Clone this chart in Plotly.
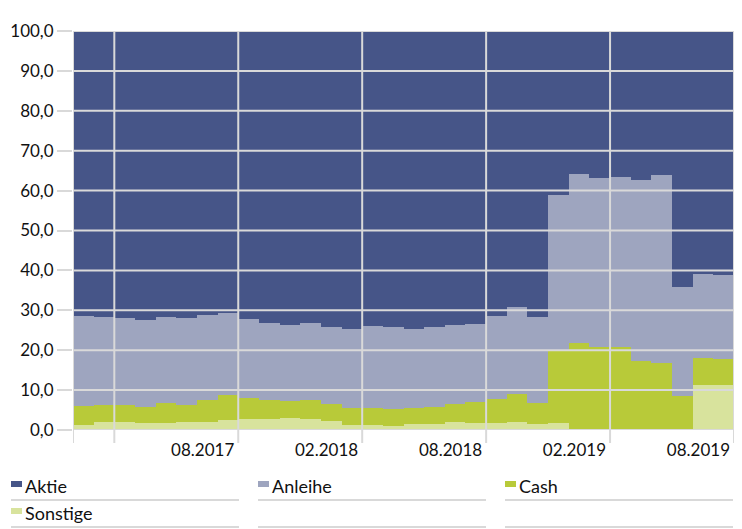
import plotly.graph_objects as go

# ---- data (in percent) ----
months = [
    "01.2017", "02.2017", "03.2017", "04.2017", "05.2017", "06.2017", "07.2017", "08.2017",
    "09.2017", "10.2017", "11.2017", "12.2017", "01.2018", "02.2018", "03.2018", "04.2018",
    "05.2018", "06.2018", "07.2018", "08.2018", "09.2018", "10.2018", "11.2018", "12.2018",
    "01.2019", "02.2019", "03.2019", "04.2019", "05.2019", "06.2019", "07.2019", "08.2019",
]
sonstige = [1.3, 2.0, 1.9, 1.8, 1.8, 2.0, 1.9, 2.4, 2.8, 2.7, 2.9, 2.7, 2.2, 1.3, 1.3, 1.1,
            1.4, 1.5, 1.9, 1.7, 1.8, 2.1, 1.6, 1.8, 0.0, 0.0, 0.0, 0.0, 0.0, 0.0, 11.3, 11.2]
cash = [4.8, 4.3, 4.4, 4.0, 4.9, 4.2, 5.6, 6.4, 5.3, 4.9, 4.3, 4.9, 4.3, 4.1, 4.3, 4.1,
        4.1, 4.2, 4.6, 5.4, 5.9, 6.9, 5.2, 18.0, 21.9, 20.9, 20.9, 17.3, 16.8, 8.6, 6.8, 6.7]
anleihe = [22.5, 22.0, 21.8, 21.8, 21.7, 21.9, 21.3, 20.6, 19.7, 19.2, 19.2, 19.1, 19.2, 19.9, 20.4, 20.5,
           19.8, 20.1, 19.7, 19.4, 20.8, 21.8, 21.6, 39.1, 42.2, 42.2, 42.4, 45.3, 47.0, 27.2, 20.9, 21.0]
aktie = [71.4, 71.7, 71.9, 72.4, 71.6, 71.9, 71.2, 70.6, 72.2, 73.2, 73.6, 73.3, 74.3, 74.7, 74.0, 74.3,
         74.7, 74.2, 73.8, 73.5, 71.5, 69.2, 71.6, 41.1, 35.9, 36.9, 36.7, 37.4, 36.2, 64.2, 61.0, 60.9]
tick_labels = ["08.2017", "02.2018", "08.2018", "02.2019", "08.2019"]
y_ticks = [0, 10, 20, 30, 40, 50, 60, 70, 80, 90, 100]

series = [
    ("Sonstige", sonstige, "#d8e39d"),
    ("Cash", cash, "#b8ca39"),
    ("Anleihe", anleihe, "#9ea5bf"),
    ("Aktie", aktie, "#465588"),
]
legend_order = ["Aktie", "Anleihe", "Cash", "Sonstige"]

FONT = "Lato, 'Open Sans', sans-serif"
GRID = "#d9d9d9"

OFF = 8  # page body margin
W, H = 742 - 2 * OFF, 529 - OFF
# target plot area in page pixels: x 73..734, y 31..430
ML, MT = 73 - OFF, 31 - OFF
MR = W - (734 - OFF)
MB = H - (430 - OFF)
PW, PH = W - ML - MR, H - MT - MB


def px_x(px):  # page x -> paper x
    return (px - OFF - ML) / PW


def px_y(py):  # page y -> paper y
    return (MT + PH - (py - OFF)) / PH


x_idx = list(range(len(months)))

fig = go.Figure()
for name, vals, color in series:
    fig.add_trace(go.Bar(
        x=x_idx, y=vals, name=name, marker=dict(color=color, line=dict(width=0)),
        customdata=months, hovertemplate="%{customdata}<br>" + name + ": %{y:.1f}<extra></extra>",
        showlegend=False,
    ))

shapes = []
# horizontal gridlines above the bars
for v in y_ticks:
    shapes.append(dict(type="line", xref="paper", yref="y", x0=0, x1=1, y0=v, y1=v,
                       line=dict(color=GRID, width=2), layer="above"))
# vertical gridlines (every 6 months, plus edges)
tick_pos = [months.index(t) + 0.5 for t in tick_labels]
v_lines = [-0.5, months.index("02.2017") + 0.5] + tick_pos
for xv in v_lines:
    shapes.append(dict(type="line", xref="x", yref="paper", x0=xv, x1=xv, y0=px_y(443), y1=1,
                       line=dict(color=GRID, width=2), layer="above"))

# manual legend (3 columns, underlined rows)
annotations = []
col_x = [11, 258, 505]
col_w = 228
row_y = [486, 513]
color_of = {n: c for n, _, c in series}
for i, name in enumerate(legend_order):
    r, c = divmod(i, 3)
    px, py = col_x[c], row_y[r]
    shapes.append(dict(type="rect", xref="paper", yref="paper",
                       x0=px_x(px), x1=px_x(px + 11),
                       y0=px_y(py + 1), y1=px_y(py - 5),
                       fillcolor=color_of[name], line=dict(width=0)))
    annotations.append(dict(text=name, xref="paper", yref="paper",
                            x=px_x(px + 12), y=px_y(py),
                            xanchor="left", yanchor="middle", showarrow=False,
                            font=dict(family=FONT, size=18, color="#111111")))
for r in range(2):
    for c in range(3):
        px = col_x[c]
        yy = px_y(row_y[r] + 14)
        shapes.append(dict(type="line", xref="paper", yref="paper",
                           x0=px_x(px), x1=px_x(px + col_w), y0=yy, y1=yy,
                           line=dict(color=GRID, width=2)))

fig.update_layout(
    width=W, height=H,
    margin=dict(l=ML, r=MR, t=MT, b=MB),
    barmode="stack", bargap=0,
    paper_bgcolor="white", plot_bgcolor="white",
    separators=",.",
    font=dict(family=FONT, size=17, color="#111111"),
    shapes=shapes, annotations=annotations,
    showlegend=False,
    xaxis=dict(
        range=[-0.5, len(months) - 0.5], tickmode="array", tickvals=tick_pos, ticktext=tick_labels,
        ticklabelposition="outside left", ticklabelshift=-4, ticklabelstandoff=8,
        showgrid=False, zeroline=False, ticks="",
        tickfont=dict(size=17), showline=False,
    ),
    yaxis=dict(
        range=[0, 100], tickmode="array", tickvals=y_ticks, tickformat=".1f",
        showgrid=False, zeroline=False, ticks="outside", ticklen=15, tickcolor=GRID, tickwidth=2,
        tickfont=dict(size=17), showline=False,
    ),
)

fig.write_html("out.html")
